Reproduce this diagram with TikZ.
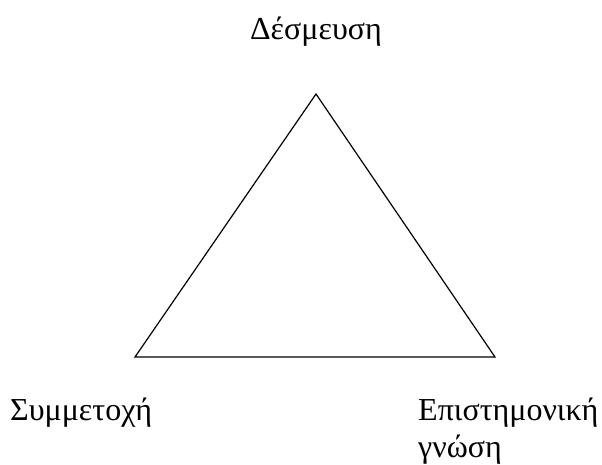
\documentclass[tikz,border=0pt]{standalone}
\usepackage{fontspec}
\setmainfont{Liberation Serif}
\begin{document}
\begin{tikzpicture}[x=1pt,y=-1pt,
  lbl/.style={inner sep=0pt,font=\fontsize{32}{37}\selectfont},
  edge/.style={draw=black,line width=1.2pt,line join=miter}]
\useasboundingbox (0,0) rectangle (602,465);
\coordinate (top) at (316,94);
\coordinate (bl) at (135,357);
\coordinate (br) at (495,357);
\draw[edge] (top) -- (bl) -- (br) -- cycle;
\node[lbl,anchor=base] (d) at (316,40) {Δέσμευση};
\node[lbl,anchor=base west] (s) at (10,420) {Συμμετοχή};
\node[lbl,anchor=base west,align=left] (e) at (418,457) {Επιστημονική\\γνώση};
\end{tikzpicture}
\end{document}
